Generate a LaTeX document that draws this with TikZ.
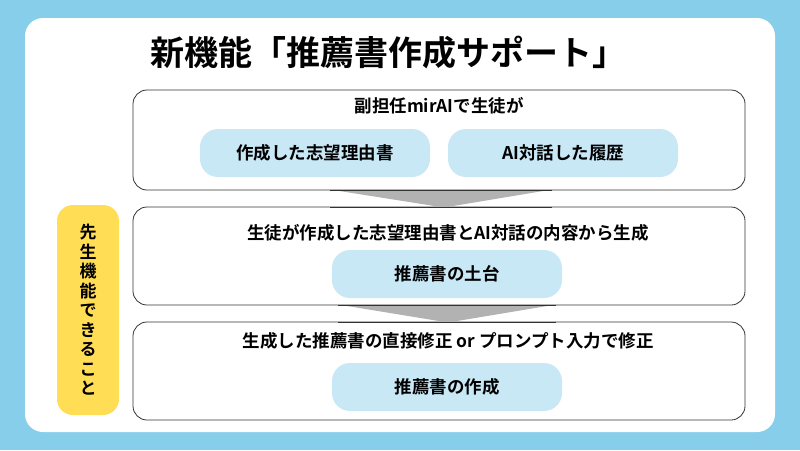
\documentclass[tikz,border=0pt]{standalone}
\usepackage{fontspec}
\setmainfont{Noto Sans CJK JP}[BoldFont={Noto Sans CJK JP Bold}]
\begin{document}
\begin{tikzpicture}[x=1pt,y=-1pt,
 panel/.style={draw=black!80,line width=0.8pt,fill=white,rounded corners=14pt},
 pill/.style={fill=blueA,rounded corners=18pt,minimum width=230pt,minimum height=48pt,font=\bfseries\fontsize{17.5}{20}\selectfont},
 lbl/.style={font=\bfseries\fontsize{17.5}{20}\selectfont},
 flow/.style={fill=black!30}]
\definecolor{bgblue}{HTML}{87CEEB}
\definecolor{blueA}{HTML}{C8E8F6}
\definecolor{yel}{HTML}{FFDD55}
\fill[bgblue] (0,0) rectangle (800,450);
\useasboundingbox (0,0) rectangle (800,450);
\fill[white,rounded corners=18pt] (25,18) rectangle (775,432);
\node[font=\bfseries\fontsize{34}{38}\selectfont] (title) at (388,53) {新機能「推薦書作成サポート」};
\draw[panel] (133,90) rectangle (745,190);
\draw[panel] (133,207) rectangle (745,305);
\draw[panel] (133,322) rectangle (745,420);
\fill[flow] (330,189.5) -- (552,189.5) -- (444,207.5) -- cycle;
\fill[flow] (338,304.5) -- (556,304.5) -- (448,322.5) -- cycle;
\draw[black!80,line width=0.8pt] (330,190)--(552,190) (330,207)--(552,207) (338,305)--(556,305) (338,322)--(556,322);
\node[lbl] (t1) at (439,106) {副担任mirAIで生徒が};
\node[pill] (p1) at (315,153) {作成した志望理由書};
\node[pill] (p2) at (563,153) {AI対話した履歴};
\node[lbl] (t2) at (448,233) {生徒が作成した志望理由書とAI対話の内容から生成};
\node[pill] (p3) at (447,274) {推薦書の土台};
\node[lbl] (t3) at (448,341) {生成した推薦書の直接修正 or プロンプト入力で修正};
\node[pill] (p4) at (447,387) {推薦書の作成};
\fill[yel,rounded corners=16pt] (57,205) rectangle (119,415);
\node[font=\bfseries\fontsize{17}{19.5}\selectfont,align=center,inner sep=0pt] (side) at (88,310) {先\\生\\機\\能\\で\\き\\る\\こ\\と};
\end{tikzpicture}
\end{document}
